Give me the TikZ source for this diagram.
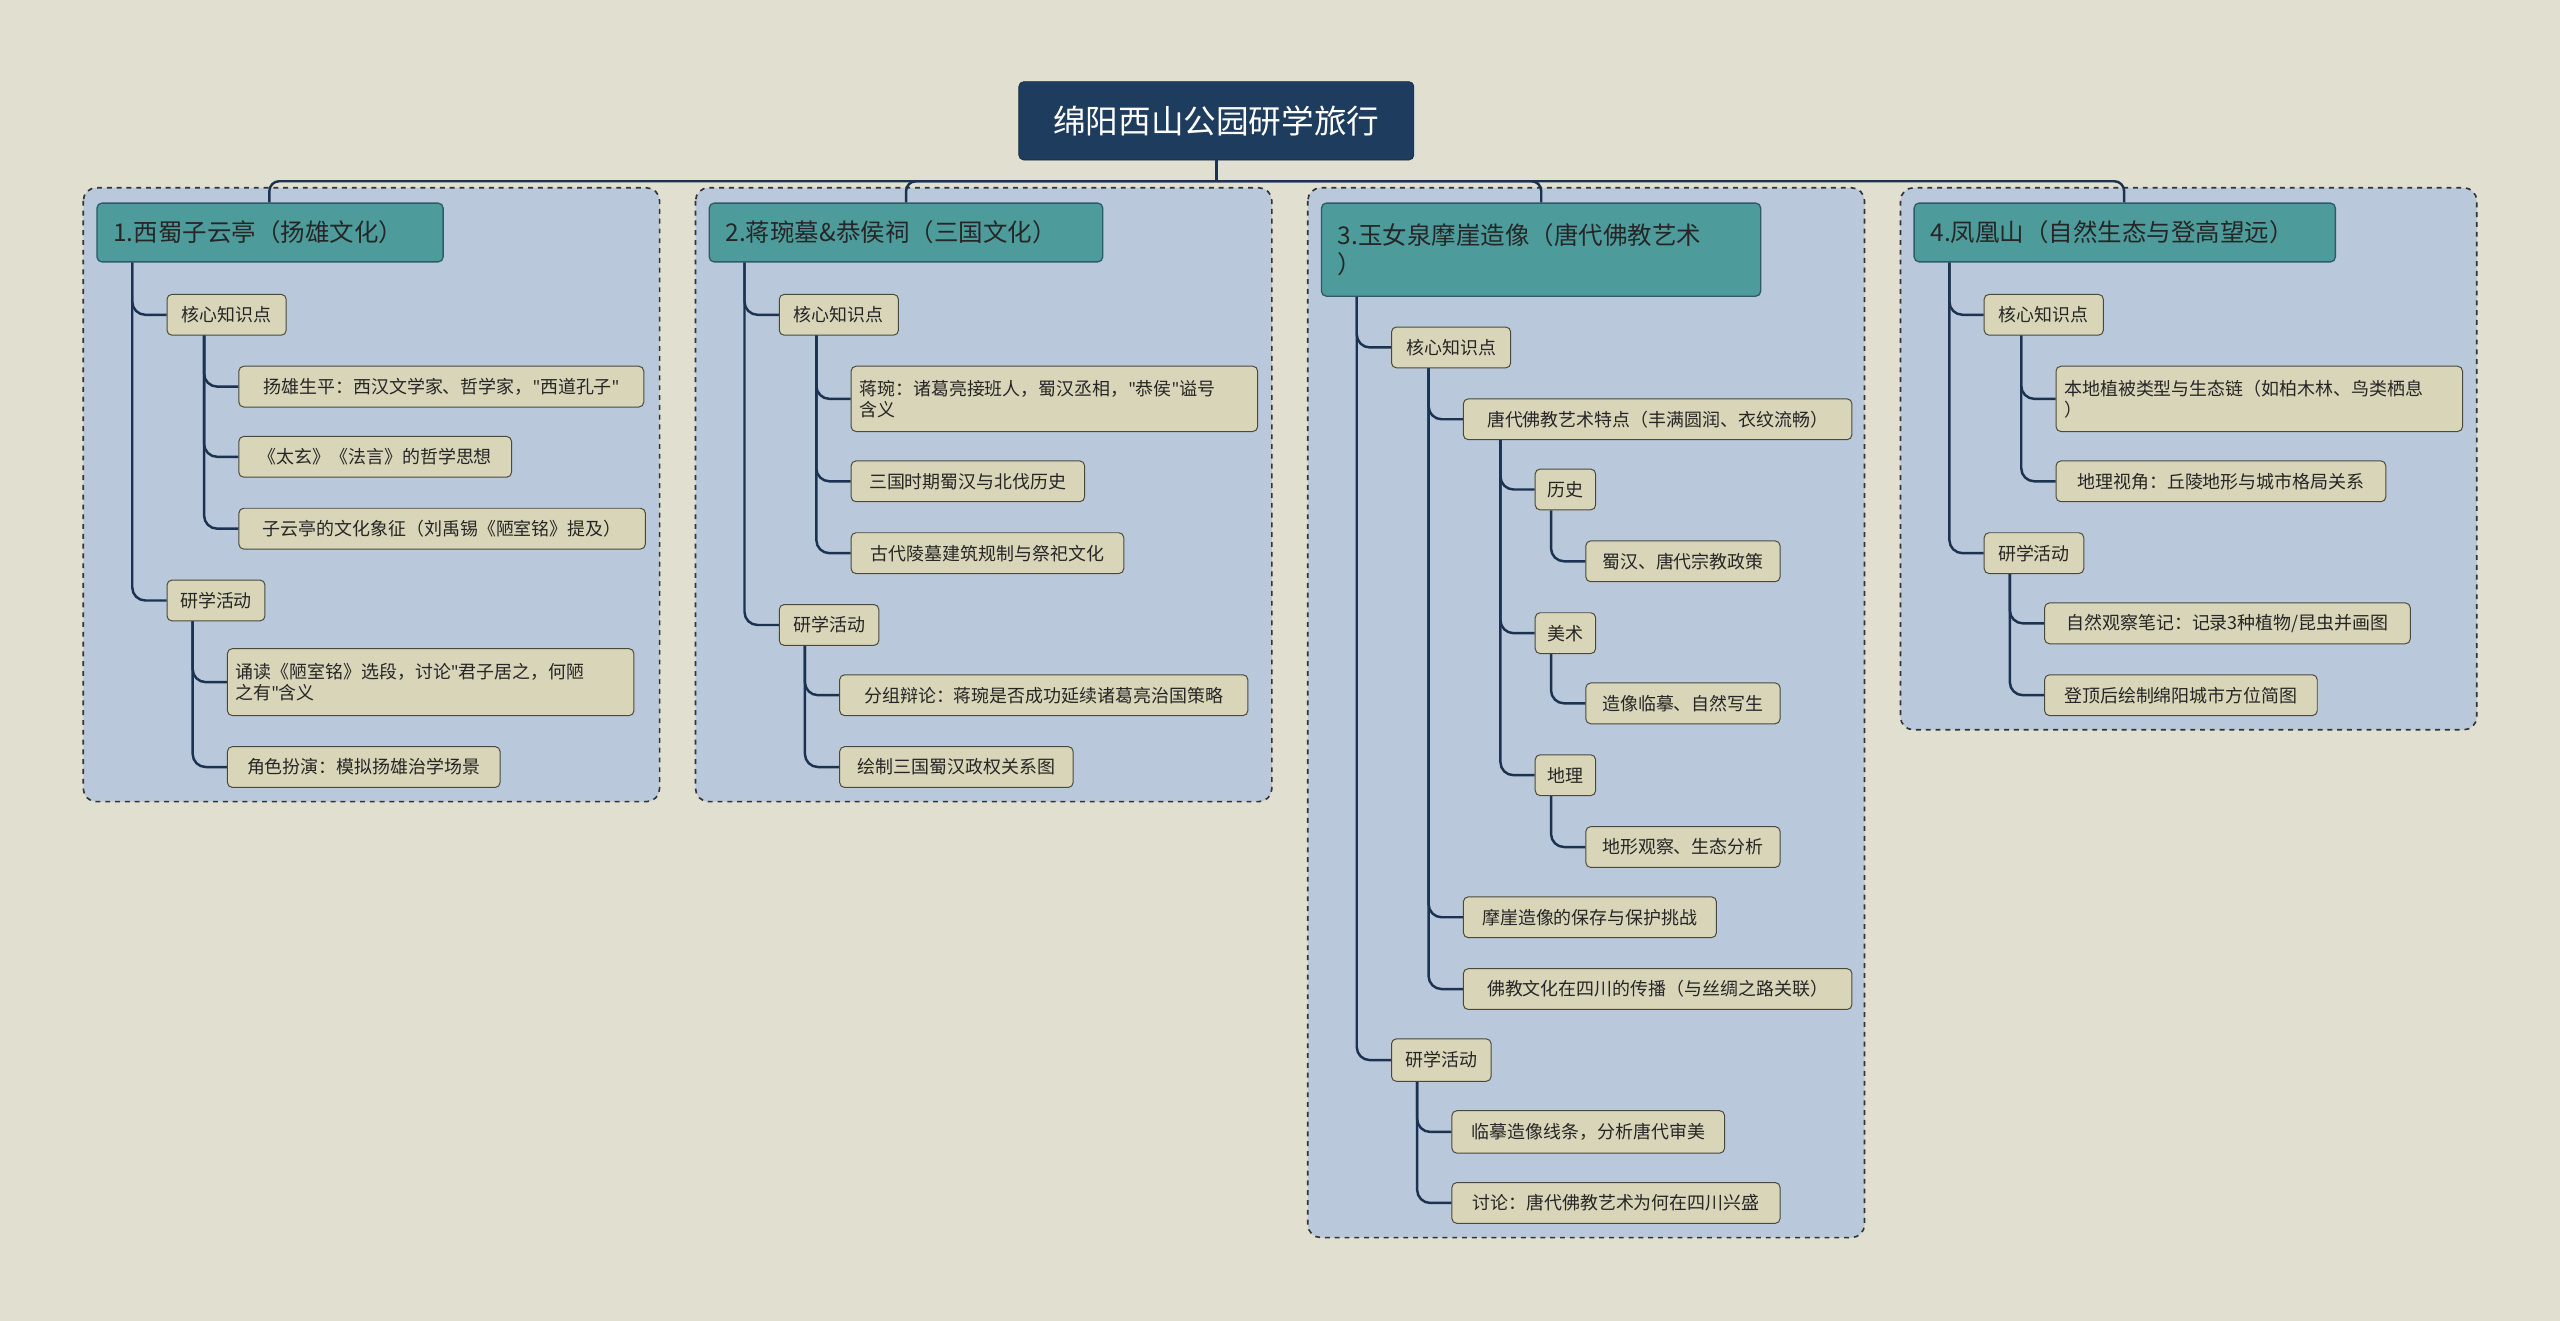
\documentclass[tikz,border=0pt]{standalone}
\usepackage{fontspec}
\setmainfont{Noto Sans CJK SC}
\newfontfamily\lat{Noto Sans}
\newcommand\qq[1]{{\lat"}#1{\lat"}}
\begin{document}
\begin{tikzpicture}[x=1pt,y=-1pt,
  conn/.style={draw=lc,line width=1.5pt,rounded corners=8pt},
  panel/.style={draw=black!80,fill=pb,dashed,line width=1pt,rounded corners=8pt},
  kn/.style={draw=nb,fill=nf,rounded corners=3pt,anchor=north west,inner xsep=5pt,inner ysep=0pt,align=left,font=\fontsize{11}{13}\selectfont,text=black!85,line width=0.6pt},
  hd/.style={draw=hb,fill=hf,rounded corners=3pt,anchor=north west,inner xsep=10pt,inner ysep=0pt,align=left,font=\fontsize{15}{18}\selectfont,text=black!85,line width=0.8pt}
]
\definecolor{bg}{HTML}{E0DFD0}
\definecolor{lc}{HTML}{1B3350}
\definecolor{pb}{HTML}{B9C8DA}
\definecolor{nf}{HTML}{D8D5B8}
\definecolor{nb}{HTML}{4A4A3A}
\definecolor{hf}{HTML}{4E9B9C}
\definecolor{hb}{HTML}{2E5C66}
\definecolor{rt}{HTML}{1E3C5E}
\fill[bg] (0,0) rectangle (1568,809);
\useasboundingbox (0,0) rectangle (1568,809);
% panels
\draw[panel] (51,115) rectangle (404,491);
\draw[panel] (426,115) rectangle (779,491);
\draw[panel] (801,115) rectangle (1142,758);
\draw[panel] (1164,115) rectangle (1517,447);
% root
\node[fill=rt,draw=rt!70!black,rounded corners=3pt,minimum width=242pt,minimum height=48pt,text=white,font=\fontsize{20}{24}\selectfont] (root) at (745,74) {绵阳西山公园研学旅行};
% headers
\node[hd,text width=192pt,minimum height=36pt] (h1) at (59,124) {1.西蜀子云亭（扬雄文化）};
\node[hd,text width=221pt,minimum height=36pt] (h2) at (434,124) {2.蒋琬墓\&恭侯祠（三国文化）};
\node[hd,text width=249pt,minimum height=57pt] (h3) at (809,124) {3.玉女泉摩崖造像（唐代佛教艺术\\）};
\node[hd,text width=238pt,minimum height=36pt] (h4) at (1172,124) {4.凤凰山（自然生态与登高望远）};
\coordinate (hub) at (745,111);
\draw[conn,rounded corners=6pt] (root.south) -- (hub);
\draw[conn,rounded corners=6pt] (hub) -| (h1.north -| 165,0);
\draw[conn,rounded corners=6pt] (hub) -| (h2.north -| 555,0);
\draw[conn,rounded corners=6pt] (hub) -| (h3.north -| 944,0);
\draw[conn,rounded corners=6pt] (hub) -| (h4.north -| 1301,0);
% ---- panel 1
\node[kn,minimum width=73pt,minimum height=25pt] (a1) at (102,180) {核心知识点};
\node[kn,minimum width=248pt,minimum height=25pt] (a11) at (146,224) {扬雄生平：西汉文学家、哲学家，\qq{西道孔子}};
\node[kn,minimum width=167pt,minimum height=25pt] (a12) at (146,267) {《太玄》《法言》的哲学思想};
\node[kn,minimum width=249pt,minimum height=25pt] (a13) at (146,311) {子云亭的文化象征（刘禹锡《陋室铭》提及）};
\node[kn,minimum width=60pt,minimum height=25pt] (a2) at (102,355) {研学活动};
\node[kn,text width=239pt,minimum height=41pt] (a21) at (139,397) {诵读《陋室铭》选段，讨论\qq{君子居之，何陋\\之有}含义};
\node[kn,minimum width=167pt,minimum height=25pt] (a22) at (139,457) {角色扮演：模拟扬雄治学场景};
\foreach \c in {a1,a2} \draw[conn] (h1.south west) ++(22,0) |- (\c.west);
\foreach \c in {a11,a12,a13} \draw[conn] (a1.south west) ++(23,0) |- (\c.west);
\foreach \c in {a21,a22} \draw[conn] (a2.south west) ++(16,0) |- (\c.west);
% ---- panel 2
\node[kn,minimum width=73pt,minimum height=25pt] (b1) at (477,180) {核心知识点};
\node[kn,text width=239pt,minimum height=40pt] (b11) at (521,224) {蒋琬：诸葛亮接班人，蜀汉丞相，\qq{恭侯}谥号\\含义};
\node[kn,minimum width=143pt,minimum height=25pt] (b12) at (521,282) {三国时期蜀汉与北伐历史};
\node[kn,minimum width=167pt,minimum height=25pt] (b13) at (521,326) {古代陵墓建筑规制与祭祀文化};
\node[kn,minimum width=61pt,minimum height=25pt] (b2) at (477,370) {研学活动};
\node[kn,minimum width=250pt,minimum height=25pt] (b21) at (514,413) {分组辩论：蒋琬是否成功延续诸葛亮治国策略};
\node[kn,minimum width=143pt,minimum height=25pt] (b22) at (514,457) {绘制三国蜀汉政权关系图};
\foreach \c in {b1,b2} \draw[conn] (h2.south west) ++(22,0) |- (\c.west);
\foreach \c in {b11,b12,b13} \draw[conn] (b1.south west) ++(23,0) |- (\c.west);
\foreach \c in {b21,b22} \draw[conn] (b2.south west) ++(16,0) |- (\c.west);
% ---- panel 3
\node[kn,minimum width=73pt,minimum height=25pt] (c1) at (852,200) {核心知识点};
\node[kn,minimum width=238pt,minimum height=25pt] (c11) at (896,244) {唐代佛教艺术特点（丰满圆润、衣纹流畅）};
\node[kn,minimum width=37pt,minimum height=25pt] (c111) at (940,287) {历史};
\node[kn,minimum width=119pt,minimum height=25pt] (c1111) at (971,331) {蜀汉、唐代宗教政策};
\node[kn,minimum width=37pt,minimum height=25pt] (c112) at (940,375) {美术};
\node[kn,minimum width=119pt,minimum height=25pt] (c1121) at (971,418) {造像临摹、自然写生};
\node[kn,minimum width=37pt,minimum height=25pt] (c113) at (940,462) {地理};
\node[kn,minimum width=119pt,minimum height=25pt] (c1131) at (971,506) {地形观察、生态分析};
\node[kn,minimum width=155pt,minimum height=25pt] (c12) at (896,549) {摩崖造像的保存与保护挑战};
\node[kn,minimum width=238pt,minimum height=25pt] (c13) at (896,593) {佛教文化在四川的传播（与丝绸之路关联）};
\node[kn,minimum width=61pt,minimum height=26pt] (c2) at (852,636) {研学活动};
\node[kn,minimum width=167pt,minimum height=26pt] (c21) at (889,680) {临摹造像线条，分析唐代审美};
\node[kn,minimum width=201pt,minimum height=25pt] (c22) at (889,724) {讨论：唐代佛教艺术为何在四川兴盛};
\foreach \c in {c1,c2} \draw[conn] (h3.south west) ++(22,0) |- (\c.west);
\foreach \c in {c11,c12,c13} \draw[conn] (c1.south west) ++(23,0) |- (\c.west);
\foreach \c in {c111,c112,c113} \draw[conn] (c11.south west) ++(23,0) |- (\c.west);
\draw[conn] (c111.south west) ++(10,0) |- (c1111.west);
\draw[conn] (c112.south west) ++(10,0) |- (c1121.west);
\draw[conn] (c113.south west) ++(10,0) |- (c1131.west);
\foreach \c in {c21,c22} \draw[conn] (c2.south west) ++(16,0) |- (\c.west);
% ---- panel 4
\node[kn,minimum width=73pt,minimum height=25pt] (d1) at (1215,180) {核心知识点};
\node[kn,text width=239pt,minimum height=40pt] (d11) at (1259,224) {本地植被类型与生态链（如柏木林、鸟类栖息\\）};
\node[kn,minimum width=202pt,minimum height=25pt] (d12) at (1259,282) {地理视角：丘陵地形与城市格局关系};
\node[kn,minimum width=61pt,minimum height=25pt] (d2) at (1215,326) {研学活动};
\node[kn,minimum width=224pt,minimum height=25pt] (d21) at (1252,369) {自然观察笔记：记录3种植物/昆虫并画图};
\node[kn,minimum width=167pt,minimum height=25pt] (d22) at (1252,413) {登顶后绘制绵阳城市方位简图};
\foreach \c in {d1,d2} \draw[conn] (h4.south west) ++(22,0) |- (\c.west);
\foreach \c in {d11,d12} \draw[conn] (d1.south west) ++(23,0) |- (\c.west);
\foreach \c in {d21,d22} \draw[conn] (d2.south west) ++(16,0) |- (\c.west);
\end{tikzpicture}
\end{document}
